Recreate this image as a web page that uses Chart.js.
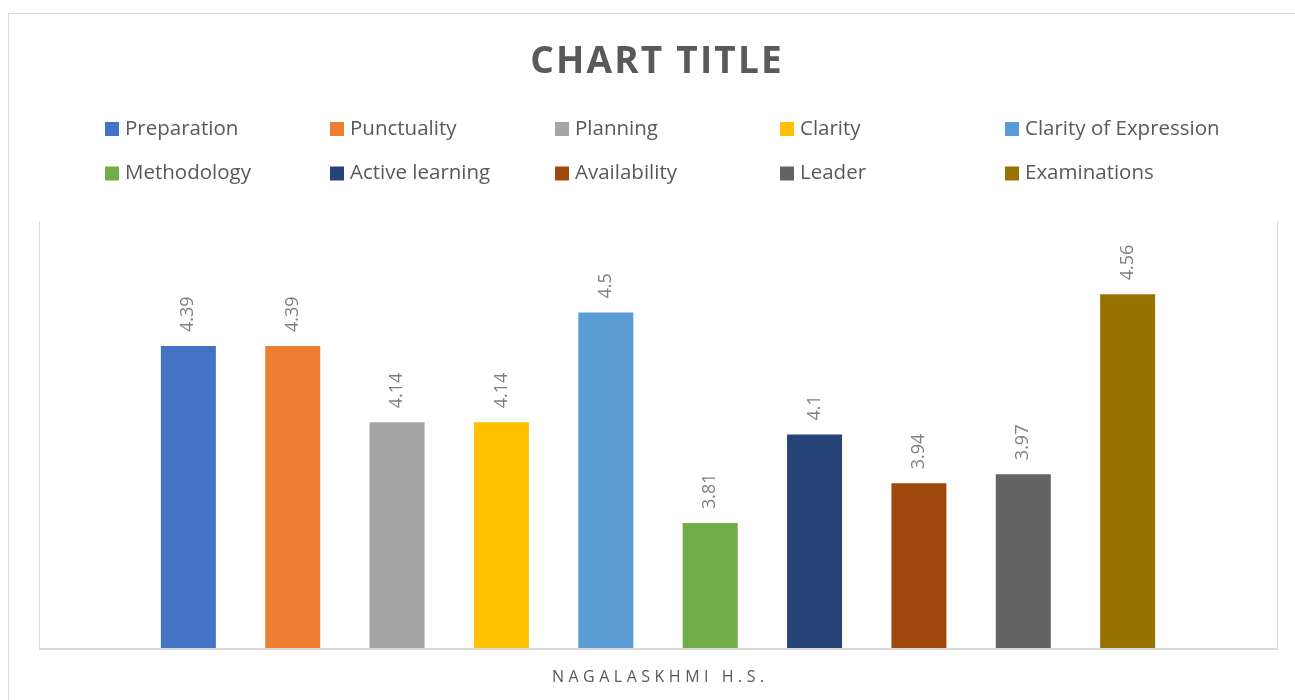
<!DOCTYPE html>
<html>
<head>
<meta charset="utf-8">
<script src="https://cdn.jsdelivr.net/npm/chart.js@4.4.1/dist/chart.umd.min.js"></script>
<style>
  html, body { margin: 0; padding: 0; background: #fff; }
  #wrap { position: relative; width: 1295px; height: 700px; }
</style>
</head>
<body>
<div id="wrap"><canvas id="chart" width="1295" height="700"></canvas></div>
<script>
var categories = ["NAGALASKHMI H.S."];
var seriesNames = ["Preparation", "Punctuality", "Planning", "Clarity", "Clarity of Expression",
                   "Methodology", "Active learning", "Availability", "Leader", "Examinations"];
var seriesValues = [4.39, 4.39, 4.14, 4.14, 4.5, 3.81, 4.1, 3.94, 3.97, 4.56];
var seriesColors = ["#4472C4", "#ED7D31", "#A5A5A5", "#FFC000", "#5B9BD5",
                    "#70AD47", "#264478", "#9E480E", "#636363", "#997300"];
var yMin = 3.4, yMax = 4.8;
var titleText = "CHART TITLE";

var datasets = seriesNames.map(function (name, i) {
    return {
        label: name,
        data: [seriesValues[i]],
        backgroundColor: seriesColors[i],
        borderWidth: 0,
        categoryPercentage: 0.843,
        barPercentage: 0.527
    };
});

function spacedText(ctx, text, cx, y, spacing) {
    ctx.letterSpacing = spacing + "px";
    var w = ctx.measureText(text).width - spacing;
    ctx.textAlign = "left";
    ctx.fillText(text, cx - w / 2, y);
    ctx.letterSpacing = "0px";
}

// excel-ish frame, title, legend grid, value labels, category label
var decor = {
    id: "decor",
    beforeDraw: function (chart) {
        var ctx = chart.ctx, a = chart.chartArea;
        ctx.save();
        ctx.fillStyle = "#fff";
        ctx.fillRect(0, 0, chart.width, chart.height);
        ctx.strokeStyle = "#d9d9d9";
        ctx.lineWidth = 1;
        ctx.strokeRect(8.5, 13.5, 1300, 700);
        // plot side lines
        ctx.beginPath();
        ctx.moveTo(Math.round(a.left) + 0.5, a.top);
        ctx.lineTo(Math.round(a.left) + 0.5, a.bottom);
        ctx.moveTo(Math.round(a.right) + 0.5, a.top);
        ctx.lineTo(Math.round(a.right) + 0.5, a.bottom);
        ctx.stroke();
        ctx.restore();
    },
    afterDatasetsDraw: function (chart) {
        var ctx = chart.ctx, a = chart.chartArea;
        ctx.save();
        // bottom axis line
        ctx.strokeStyle = "#d9d9d9";
        ctx.lineWidth = 2;
        ctx.beginPath();
        ctx.moveTo(a.left, a.bottom + 1);
        ctx.lineTo(a.right + 1, a.bottom + 1);
        ctx.stroke();

        // value labels, rotated
        ctx.fillStyle = "#7f7f7f";
        ctx.font = "18px 'Open Sans'";
        ctx.textBaseline = "middle";
        ctx.textAlign = "left";
        chart.data.datasets.forEach(function (ds, i) {
            var bar = chart.getDatasetMeta(i).data[0];
            ctx.save();
            ctx.translate(bar.x, bar.y - 14);
            ctx.rotate(-Math.PI / 2);
            ctx.fillText(String(ds.data[0]), 0, 0);
            ctx.restore();
        });

        // title
        ctx.fillStyle = "#595959";
        ctx.font = "bold 37px 'Open Sans'";
        ctx.textBaseline = "alphabetic";
        spacedText(ctx, titleText, 656, 73, 2.2);

        // legend grid: 5 columns x 2 rows
        ctx.font = "20.5px 'Open Sans'";
        ctx.textBaseline = "middle";
        ctx.textAlign = "left";
        chart.data.datasets.forEach(function (ds, i) {
            var col = i % 5, row = Math.floor(i / 5);
            var x = 105 + col * 225, y = 129 + row * 44.5;
            ctx.fillStyle = ds.backgroundColor;
            ctx.fillRect(x, y - 7, 14, 14);
            ctx.fillStyle = "#595959";
            ctx.fillText(ds.label, x + 20, y);
        });

        // category label
        ctx.font = "16px 'Open Sans'";
        ctx.textBaseline = "middle";
        var cx = chart.scales.x.getPixelForValue(0);
        spacedText(ctx, categories[0], cx, 677, 4.5);
        ctx.restore();
    }
};

new Chart(document.getElementById("chart").getContext("2d"), {
    type: "bar",
    data: {
        labels: categories,
        datasets: datasets
    },
    options: {
        responsive: false,
        animation: false,
        layout: {
            padding: { left: 39, right: 18, top: 221, bottom: 52 }
        },
        plugins: {
            legend: { display: false },
            title: { display: false },
            tooltip: { enabled: false }
        },
        scales: {
            x: {
                display: false
            },
            y: {
                display: false,
                min: yMin,
                max: yMax
            }
        }
    },
    plugins: [decor]
});
</script>
</body>
</html>
